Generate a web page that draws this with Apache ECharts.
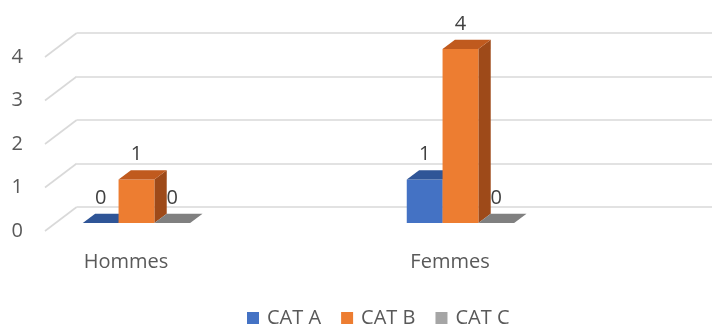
<!DOCTYPE html>
<html>
<head>
<meta charset="utf-8">
<script src="https://cdn.jsdelivr.net/npm/echarts@6/dist/echarts.min.js"></script>
<style>
  html, body { margin: 0; padding: 0; background: #ffffff; }
  #chart { width: 712px; height: 327px; }
</style>
</head>
<body>
<div id="chart"></div>
<script>
// Data
const categories = ['Hommes', 'Femmes'];
const seriesNames = ['CAT A', 'CAT B', 'CAT C'];
const catA = [0, 1];
const catB = [1, 4];
const catC = [0, 0];
const yTicks = [0, 1, 2, 3, 4];

// Styling of the pseudo-3D box
const FONT = '"Open Sans", "Noto Sans", sans-serif';
const DEPTH_DX = 31.7;      // horizontal shift from front plane to back wall
const DEPTH_DY = -24;       // vertical shift from front plane to back wall
const BAR_FRONT = 0.33;     // depth fraction of bar front faces
const BAR_BACK = 0.72;      // depth fraction of bar back faces
const BAR_FRAC = 0.1105;    // bar width as a fraction of the category spacing
const GRID_COLOR = '#d9d9d9';
const TEXT_COLOR = '#595959';
const palette = [
  { front: '#4472C4', top: '#2F5597', side: '#2B4E8C' },
  { front: '#ED7D31', top: '#C05A1E', side: '#9E4A19' },
  { front: '#A5A5A5', top: '#808080', side: '#6E6E6E' }
];

function barRenderer(slot) {
  const col = palette[slot + 1];
  return function (params, api) {
    const idx = api.value(0);
    const v = api.value(1);
    const base = api.coord([idx, 0]);
    const topPt = api.coord([idx, v]);
    const band = api.size([1, 0])[0];
    const w = band * BAR_FRAC;
    const cx = base[0] + slot * w;
    const x0 = cx - w / 2, x1 = cx + w / 2;
    const fx = BAR_FRONT * DEPTH_DX, fy = BAR_FRONT * DEPTH_DY;
    const bx = BAR_BACK * DEPTH_DX, by = BAR_BACK * DEPTH_DY;
    const yb = base[1], yt = topPt[1];
    const children = [];
    if (yb - yt > 0.5) {
      children.push({
        type: 'polygon',
        shape: { points: [[x1 + fx, yt + fy], [x1 + bx, yt + by], [x1 + bx, yb + by], [x1 + fx, yb + fy]] },
        style: { fill: col.side }
      });
      children.push({
        type: 'rect',
        shape: { x: x0 + fx, y: yt + fy, width: w, height: yb - yt },
        style: { fill: col.front }
      });
    }
    children.push({
      type: 'polygon',
      shape: { points: [[x0 + fx, yt + fy], [x1 + fx, yt + fy], [x1 + bx, yt + by], [x0 + bx, yt + by]] },
      style: { fill: col.top }
    });
    children.push({
      type: 'text',
      style: {
        x: cx + fx, y: yt + fy - 25, text: String(v),
        fill: '#404040', font: '20px ' + FONT,
        align: 'center', verticalAlign: 'middle'
      }
    });
    return { type: 'group', children: children };
  };
}

function sideWallRenderer(params, api) {
  const p = api.coord([0, api.value(0)]);
  return {
    type: 'line',
    shape: { x1: p[0], y1: p[1], x2: p[0] + DEPTH_DX, y2: p[1] + DEPTH_DY },
    style: { stroke: GRID_COLOR, lineWidth: 1.6 }
  };
}

const seriesData = [catA, catB, catC];

const chart = echarts.init(document.getElementById('chart'), null, { renderer: 'canvas' });
chart.setOption({
  backgroundColor: '#ffffff',
  animation: false,
  textStyle: { fontFamily: FONT },
  grid: [
    // front plane: category ticks sit at the group centres
    { left: 126, right: 262, top: 57, bottom: 96 },
    // front plane, left edge (value labels and side wall)
    { left: 45, right: 0, top: 57, bottom: 96 },
    // back wall
    { left: 76.7, right: 0, top: 33, bottom: 120 }
  ],
  xAxis: [
    {
      gridIndex: 0, type: 'category', data: categories, boundaryGap: false,
      axisLine: { show: false }, axisTick: { show: false },
      axisLabel: { color: TEXT_COLOR, fontSize: 20, fontFamily: FONT, margin: 21 }
    },
    { gridIndex: 1, type: 'value', min: 0, max: 1, show: false },
    { gridIndex: 2, type: 'value', min: 0, max: 1, show: false }
  ],
  yAxis: [
    { gridIndex: 0, type: 'value', min: 0, max: 4, interval: 1, show: false },
    {
      gridIndex: 1, type: 'value', min: 0, max: 4, interval: 1,
      axisLine: { show: false }, axisTick: { show: false }, splitLine: { show: false },
      axisLabel: { color: TEXT_COLOR, fontSize: 20, fontFamily: FONT, margin: 22 }
    },
    {
      gridIndex: 2, type: 'value', min: 0, max: 4, interval: 1,
      axisLine: { show: false }, axisTick: { show: false }, axisLabel: { show: false },
      splitLine: { show: true, lineStyle: { color: GRID_COLOR, width: 1.6 } }
    }
  ],
  legend: {
    left: 247, top: 308, padding: 0,
    itemWidth: 12, itemHeight: 12, itemGap: 20,
    icon: 'rect',
    textStyle: { color: TEXT_COLOR, fontSize: 20, lineHeight: 20, fontFamily: FONT, padding: [0, 0, 0, 3] },
    data: seriesNames
  },
  series: [
    {
      type: 'custom', name: 'side-wall', xAxisIndex: 1, yAxisIndex: 1,
      data: yTicks.map(v => [v]), renderItem: sideWallRenderer, silent: true
    }
  ].concat(seriesNames.map((name, i) => ({
    type: 'custom', name: name, xAxisIndex: 0, yAxisIndex: 0,
    itemStyle: { color: palette[i].front },
    data: seriesData[i].map((v, k) => [k, v]),
    renderItem: barRenderer(i - 1)
  })))
});
</script>
</body>
</html>
